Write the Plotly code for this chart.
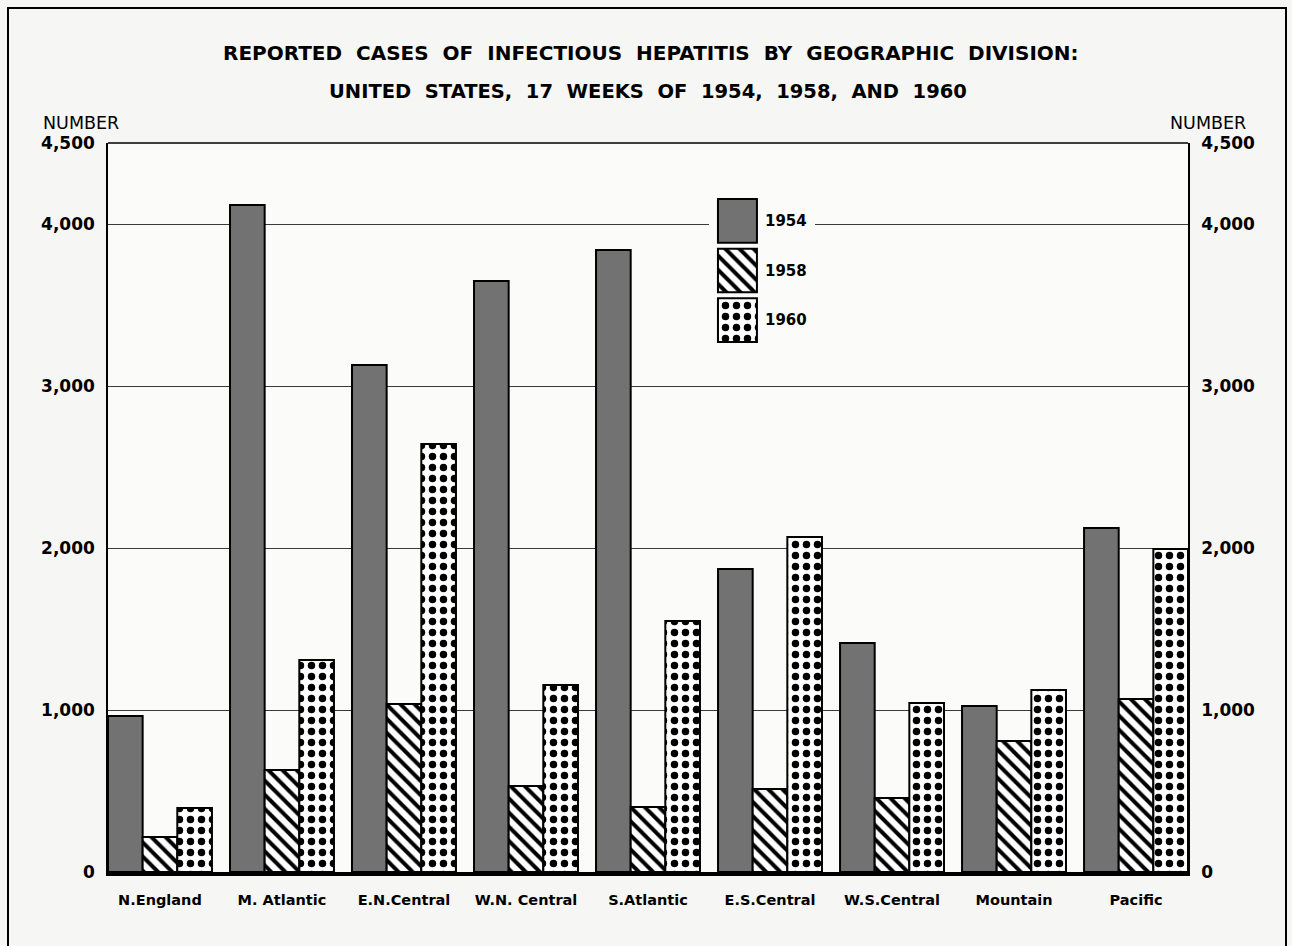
import plotly.graph_objects as go

# ---- data ----
divisions = ["N.England", "M. Atlantic", "E.N.Central", "W.N. Central", "S.Atlantic",
             "E.S.Central", "W.S.Central", "Mountain", "Pacific"]
years = ["1954", "1958", "1960"]
cases_1954 = [963, 4117, 3130, 3648, 3840, 1870, 1414, 1025, 2123]
cases_1958 = [216, 630, 1037, 531, 401, 512, 457, 809, 1068]
cases_1960 = [395, 1309, 2642, 1154, 1549, 2068, 1043, 1123, 1994]
tick_vals = [0, 1000, 2000, 3000, 4000, 4500]
tick_text = ["0", "1,000", "2,000", "3,000", "4,000", "4,500"]

FONT = "DejaVu Sans"
PAPER = "#f6f6f4"
PLOT = "#fbfbf9"

styles = {
    "1954": dict(color="#727272", pattern=None),
    "1958": dict(color="white", pattern=dict(shape="\\", fgcolor="black", bgcolor="white",
                                              size=10, solidity=0.4, fillmode="replace",
                                              fgopacity=1)),
    "1960": dict(color="white", pattern=dict(shape=".", fgcolor="black", bgcolor="white",
                                              size=11, solidity=0.36, fillmode="replace",
                                              fgopacity=1)),
}
series = {"1954": cases_1954, "1958": cases_1958, "1960": cases_1960}


def make_marker(yr):
    st = styles[yr]
    m = dict(color=st["color"], line=dict(color="black", width=2))
    if st["pattern"]:
        m["pattern"] = st["pattern"]
    return m


fig = go.Figure()
for yr in years:
    fig.add_trace(go.Bar(x=divisions, y=series[yr], name=yr, marker=make_marker(yr),
                         showlegend=False, xaxis="x", yaxis="y"))

# invisible trace so the right-hand axis is drawn
fig.add_trace(go.Scatter(x=[divisions[0]], y=[0], yaxis="y2", mode="markers",
                         marker=dict(opacity=0), showlegend=False, hoverinfo="skip"))

# ---- inset legend on its own small axes ----
# backdrop (breaks the grid line behind the legend)
fig.add_trace(go.Bar(x=[0.63], y=[3.22], base=[-0.18], width=2.72, offsetgroup="leg",
                     marker=dict(color=PLOT, line=dict(width=0)),
                     xaxis="x3", yaxis="y3", showlegend=False, hoverinfo="skip"))
for i, yr in enumerate(years):
    fig.add_trace(go.Bar(x=[0], y=[0.88], base=[i], width=1, offsetgroup="leg",
                         marker=make_marker(yr), xaxis="x3", yaxis="y3",
                         showlegend=False, hoverinfo="skip"))
    fig.add_annotation(xref="x3", yref="y3", x=0.5, y=i + 0.44, text=yr,
                       xanchor="left", yanchor="middle", xshift=6, showarrow=False,
                       font=dict(family=FONT, size=15, color="black", weight="bold"))

W, H = 1292, 946
L, R, T, B = 108, 104, 143, 74
pw = W - L - R
ph = H - T - B


def px(x):
    return (x - L) / pw


def py(y):
    return (H - B - y) / ph


yaxis_common = dict(range=[0, 4500], tickvals=tick_vals, ticktext=tick_text,
                    tickfont=dict(family=FONT, size=17, color="black", weight="bold"),
                    ticklabelstandoff=8, showline=True, linecolor="black", linewidth=1.5,
                    zeroline=False, fixedrange=True)

fig.update_layout(
    width=W, height=H,
    margin=dict(l=L, r=R, t=T, b=B),
    paper_bgcolor=PAPER, plot_bgcolor=PLOT,
    barmode="group", bargap=0.148, bargroupgap=0,
    showlegend=False,
    xaxis=dict(type="category", range=[-0.426, 8.426], showline=True, linecolor="black",
               linewidth=3.5,
               tickfont=dict(family=FONT, size=14.5, color="black", weight="bold"),
               ticklabelstandoff=12, showgrid=False, ticks="", fixedrange=True),
    yaxis=dict(**yaxis_common, showgrid=True, gridcolor="#3a3a3a", gridwidth=1.2),
    yaxis2=dict(**yaxis_common, overlaying="y", side="right", showgrid=False),
    xaxis3=dict(domain=[px(709), px(815)], range=[-0.73, 1.99], visible=False,
                fixedrange=True, anchor="y3"),
    yaxis3=dict(domain=[py(350), py(190)], range=[3.04, -0.18], visible=False,
                fixedrange=True, anchor="x3"),
)

shapes = [
    # top frame line
    dict(type="line", xref="paper", yref="paper", x0=0, x1=1, y0=1, y1=1,
         line=dict(color="black", width=1.5)),
    # outer border of the page
    dict(type="rect", xref="paper", yref="paper", x0=px(8), x1=px(1286), y0=py(960),
         y1=py(8), line=dict(color="black", width=2), fillcolor="rgba(0,0,0,0)"),
]
fig.update_layout(shapes=shapes)

titles = [
    ("REPORTED  CASES  OF  INFECTIOUS  HEPATITIS  BY  GEOGRAPHIC  DIVISION:", 651, 53, 20),
    ("UNITED  STATES,  17  WEEKS  OF  1954,  1958,  AND  1960", 648, 91, 19.5),
]
for text, cx, cy, fs in titles:
    fig.add_annotation(xref="paper", yref="paper", xanchor="center", yanchor="middle",
                       showarrow=False,
                       font=dict(family=FONT, size=fs, color="black", weight="bold"),
                       text=text.replace("  ", "\u00a0 "), x=px(cx), y=py(cy))

for cx in (81, 1208):
    fig.add_annotation(xref="paper", yref="paper", x=px(cx), y=py(123), text="NUMBER",
                       xanchor="center", yanchor="middle", showarrow=False,
                       font=dict(family=FONT, size=17.5, color="black"))

fig.write_html("out.html", config={"displayModeBar": False},
               post_script="document.body.style.margin='0';")
